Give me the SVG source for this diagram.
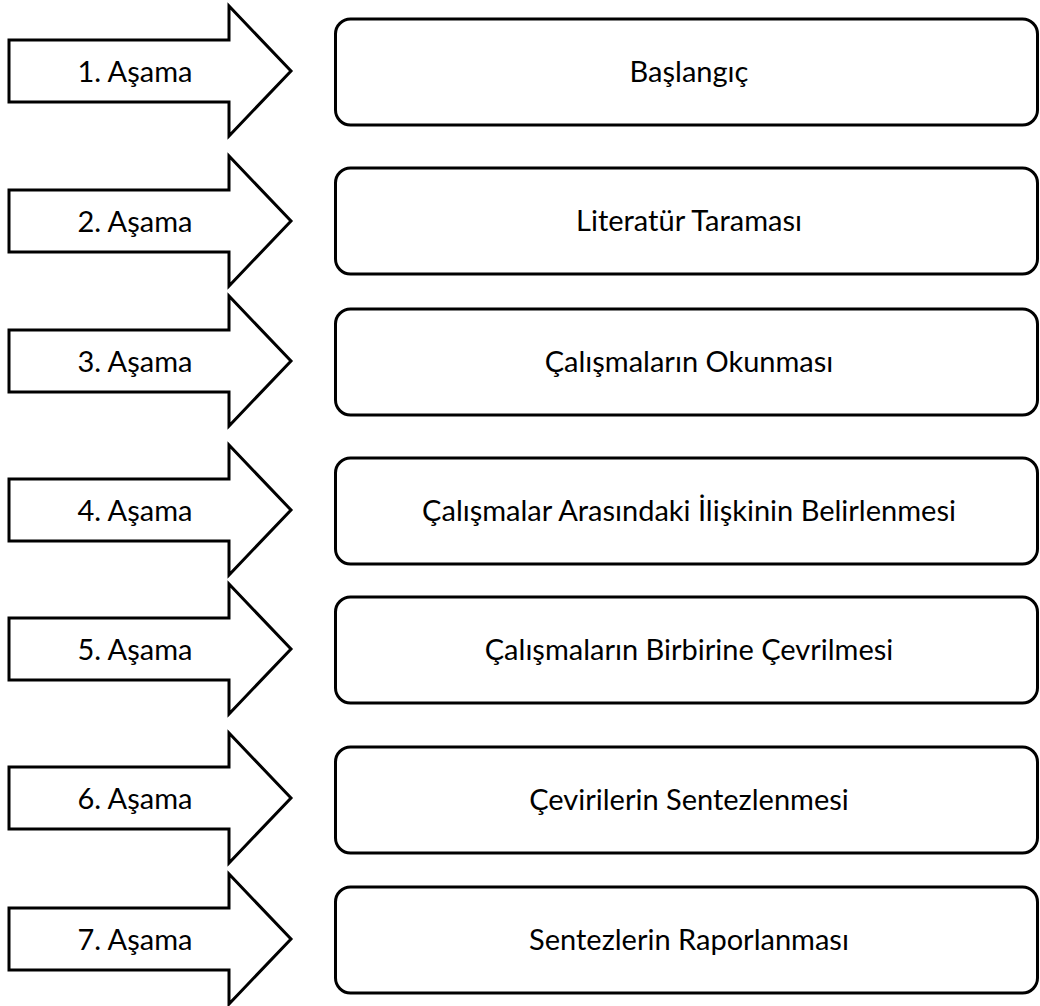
<svg xmlns="http://www.w3.org/2000/svg" width="1040" height="1006" viewBox="0 0 1040 1006">
<defs>
<style>
.bg{fill:#ffffff}
.arrow{fill:#ffffff;stroke:#000000;stroke-width:3;stroke-linejoin:miter}
.box{fill:#ffffff;stroke:#000000;stroke-width:3}
.t{font-family:Lato,"Open Sans","Liberation Sans",sans-serif;font-size:29px;fill:#000000;text-anchor:middle}
</style>
<path id="arr" d="M9,-31 H229 V-65 L291,0 L229,65 V31 H9 Z"/>
</defs>
<rect class="bg" x="0" y="0" width="1040" height="1006"/>
<g id="connectors">
<use href="#arr" class="arrow" transform="translate(0,71)"/>
<use href="#arr" class="arrow" transform="translate(0,221)"/>
<use href="#arr" class="arrow" transform="translate(0,361)"/>
<use href="#arr" class="arrow" transform="translate(0,510)"/>
<use href="#arr" class="arrow" transform="translate(0,649)"/>
<use href="#arr" class="arrow" transform="translate(0,798)"/>
<use href="#arr" class="arrow" transform="translate(0,939)"/>
</g>
<g id="stage1"><text class="t" x="135" y="82">1. Aşama</text></g>
<g id="stage2"><text class="t" x="135" y="232">2. Aşama</text></g>
<g id="stage3"><text class="t" x="135" y="372">3. Aşama</text></g>
<g id="stage4"><text class="t" x="135" y="521">4. Aşama</text></g>
<g id="stage5"><text class="t" x="135" y="660">5. Aşama</text></g>
<g id="stage6"><text class="t" x="135" y="809">6. Aşama</text></g>
<g id="stage7"><text class="t" x="135" y="950">7. Aşama</text></g>
<g id="box1"><rect class="box" x="335.5" y="19" width="702" height="106" rx="15"/><text class="t" x="689" y="82">Başlangıç</text></g>
<g id="box2"><rect class="box" x="335.5" y="168" width="702" height="106" rx="15"/><text class="t" x="689" y="231">Literatür Taraması</text></g>
<g id="box3"><rect class="box" x="335.5" y="309" width="702" height="106" rx="15"/><text class="t" x="689" y="372">Çalışmaların Okunması</text></g>
<g id="box4"><rect class="box" x="335.5" y="458" width="702" height="106" rx="15"/><text class="t" x="689" y="521">Çalışmalar Arasındaki İlişkinin Belirlenmesi</text></g>
<g id="box5"><rect class="box" x="335.5" y="597" width="702" height="106" rx="15"/><text class="t" x="689" y="660">Çalışmaların Birbirine Çevrilmesi</text></g>
<g id="box6"><rect class="box" x="335.5" y="747" width="702" height="106" rx="15"/><text class="t" x="689" y="810">Çevirilerin Sentezlenmesi</text></g>
<g id="box7"><rect class="box" x="335.5" y="887" width="702" height="106" rx="15"/><text class="t" x="689" y="950">Sentezlerin Raporlanması</text></g>
</svg>
